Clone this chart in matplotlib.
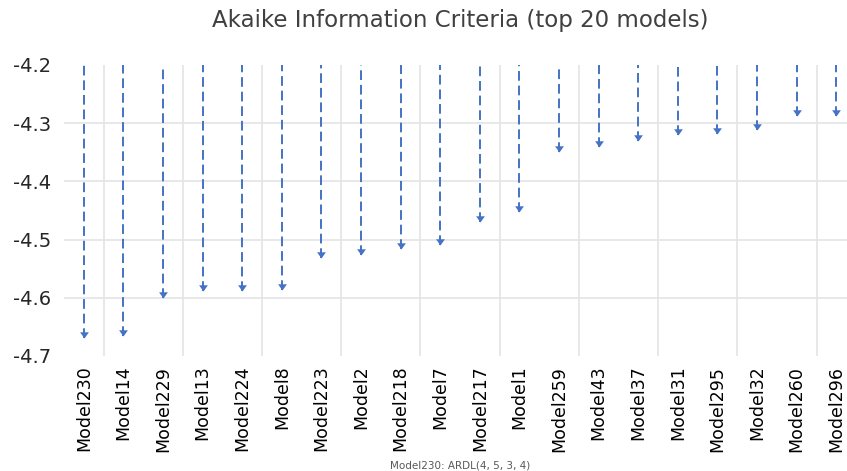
import numpy as np
import matplotlib.pyplot as plt
from matplotlib.path import Path

# AIC values of the top 20 models
models = ["Model230", "Model14", "Model229", "Model13", "Model224", "Model8",
          "Model223", "Model2", "Model218", "Model7", "Model217", "Model1",
          "Model259", "Model43", "Model37", "Model31", "Model295", "Model32",
          "Model260", "Model296"]
aic = [-4.669, -4.665, -4.600, -4.589, -4.589, -4.586,
       -4.532, -4.527, -4.517, -4.510, -4.469, -4.453,
       -4.349, -4.341, -4.330, -4.320, -4.318, -4.311,
       -4.287, -4.287]
y_ticks = [-4.7, -4.6, -4.5, -4.4, -4.3, -4.2]

title = "Akaike Information Criteria (top 20 models)"
note = "Model230: ARDL(4, 5, 3, 4)"

blue = "#4472C4"
grid_col = "#e4e4e4"

# triangle marker with its tip at the data point
tip = Path([(-0.6, 0.85), (0.6, 0.85), (0, 0), (-0.6, 0.85)],
           [Path.MOVETO, Path.LINETO, Path.LINETO, Path.CLOSEPOLY])

fig = plt.figure(figsize=(8.47, 4.71), dpi=100)
ax = fig.add_axes([0.0756, 0.2442, 0.9244, 0.6178])

x = np.arange(len(models))
top = y_ticks[-1]

ax.vlines(x, aic, top, colors=blue, linestyles=(0, (5, 2.5)), linewidth=1.4, zorder=3)
ax.scatter(x, aic, marker=tip, s=80, color=blue, zorder=4, linewidths=0)

ax.set_ylim(y_ticks[0], y_ticks[-1])
ax.set_xlim(-0.5, 19.27)
ax.set_yticks(y_ticks)
ax.set_yticklabels([f"{v:.1f}" for v in y_ticks], fontsize=14, color="#262626")
ax.set_xticks(x)
ax.set_xticklabels(models, rotation=90, fontsize=12.5, color="black")
ax.tick_params(axis="both", length=0)
ax.tick_params(axis="y", pad=9)
ax.tick_params(axis="x", pad=7)

# light grid: horizontal at inner ticks, vertical between every second category
ax.set_xticks(np.arange(0.5, 20, 2), minor=True)
ax.tick_params(axis="x", which="minor", length=0)
ax.grid(True, axis="y", color=grid_col, linewidth=1.2, zorder=0)
ax.grid(True, axis="x", which="minor", color=grid_col, linewidth=1.2, zorder=0)
ylines = ax.get_ygridlines()
ylines[0].set_visible(False)
ylines[-1].set_visible(False)
ax.set_axisbelow(True)

for s in ax.spines.values():
    s.set_visible(False)

fig.text(460 / 847, 1 - 21 / 471, title, ha="center", va="center",
         fontsize=16.5, color="#404040")
fig.text(460 / 847, 1 - 465 / 471, note, ha="center", va="center",
         fontsize=7.5, color="#595959")

fig.savefig("out.png", dpi=100)
